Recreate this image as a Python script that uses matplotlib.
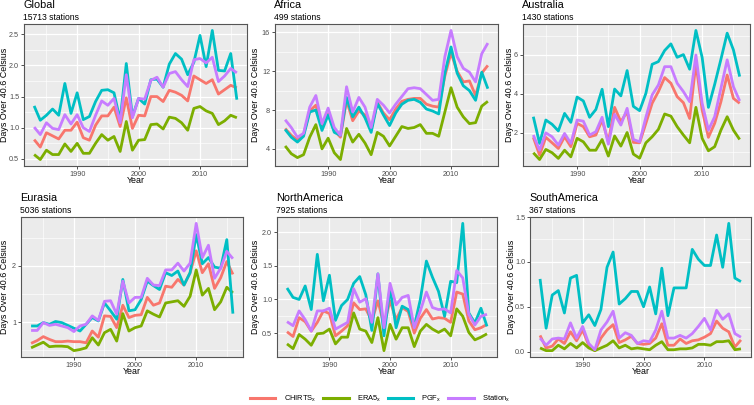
import matplotlib
matplotlib.use("Agg")
import matplotlib.pyplot as plt
from matplotlib.lines import Line2D
from matplotlib.ticker import MultipleLocator, FormatStrFormatter

years = list(range(1983, 2017))

global_chirts = [0.81, 0.69, 0.92, 0.87, 0.82, 0.96, 0.96, 1.09, 0.84, 0.80, 1.04, 1.19, 1.19, 1.33, 1.02, 1.48, 0.99,
                 1.20, 1.19, 1.50, 1.50, 1.42, 1.60, 1.57, 1.52, 1.43, 1.83, 1.77, 1.71, 1.77, 1.54, 1.61, 1.68, 1.64]
global_era5 = [0.57, 0.49, 0.64, 0.57, 0.57, 0.74, 0.62, 0.75, 0.59, 0.59, 0.75, 0.89, 0.80, 0.86, 0.62, 1.10, 0.64,
               0.80, 0.81, 1.05, 1.06, 0.98, 1.17, 1.15, 1.08, 0.96, 1.31, 1.34, 1.27, 1.23, 1.05, 1.11, 1.20, 1.16]
global_pgf = [1.35, 1.12, 1.20, 1.30, 1.20, 1.71, 1.23, 1.56, 1.13, 1.18, 1.42, 1.60, 1.61, 1.56, 1.12, 2.03, 1.18,
              1.47, 1.38, 1.77, 1.78, 1.65, 2.02, 2.19, 2.10, 1.85, 2.05, 2.48, 1.98, 2.56, 1.92, 1.91, 2.19, 1.45]
global_station = [1.01, 0.89, 1.08, 0.99, 0.97, 1.21, 1.06, 1.21, 1.00, 0.94, 1.20, 1.43, 1.36, 1.47, 1.08, 1.85, 1.16,
                  1.47, 1.46, 1.76, 1.81, 1.65, 1.87, 1.90, 1.77, 1.66, 2.09, 2.11, 2.04, 2.13, 1.74, 1.83, 1.95, 1.88]

africa_chirts = [6.1, 5.4, 4.9, 5.5, 7.9, 8.5, 6.2, 7.6, 5.9, 5.2, 9.0, 6.9, 7.9, 7.5, 6.0, 8.8, 7.7,
                 7.0, 8.1, 8.9, 9.1, 9.2, 9.2, 8.6, 8.4, 8.3, 11.5, 13.9, 12.0, 10.9, 11.0, 9.5, 11.8, 12.6]
africa_era5 = [4.3, 3.5, 3.1, 3.4, 5.2, 6.5, 4.0, 5.1, 3.6, 2.9, 6.1, 4.7, 5.5, 4.6, 3.4, 5.7, 5.3,
               4.3, 5.3, 6.3, 6.1, 6.2, 6.5, 5.6, 5.6, 5.3, 7.8, 10.3, 8.3, 7.3, 6.6, 6.7, 8.4, 8.9]
africa_pgf = [6.0, 5.2, 4.7, 5.3, 7.8, 8.0, 5.9, 7.5, 5.7, 5.4, 9.3, 7.3, 8.3, 7.2, 5.7, 8.7, 7.5,
              6.4, 7.7, 8.6, 9.0, 9.1, 8.8, 8.1, 7.9, 7.6, 11.8, 14.5, 11.8, 10.5, 10.0, 9.0, 11.9, 10.2]
africa_station = [7.0, 6.2, 5.2, 5.6, 8.3, 9.5, 6.6, 8.2, 6.2, 5.4, 10.4, 7.8, 9.3, 8.3, 6.2, 9.1, 8.5,
                  7.7, 8.6, 9.4, 10.2, 10.3, 10.2, 9.6, 9.0, 9.1, 13.5, 16.2, 13.5, 12.3, 11.9, 10.9, 13.8, 14.9]

australia_chirts = [1.77, 0.86, 1.77, 1.49, 1.20, 1.80, 1.29, 2.49, 2.32, 1.80, 1.89, 2.66, 1.54, 3.31, 2.57, 3.09, 1.51,
                    1.49, 2.49, 3.52, 4.12, 4.84, 4.55, 3.86, 3.55, 2.74, 5.57, 3.17, 1.77, 2.49, 3.60, 4.97, 3.77, 3.52]
australia_era5 = [0.98, 0.63, 1.15, 0.98, 0.69, 1.11, 0.77, 1.72, 1.54, 1.11, 1.11, 1.66, 0.81, 1.84, 1.32, 2.02, 0.91,
                  0.70, 1.49, 1.80, 2.18, 2.97, 2.86, 2.32, 1.89, 1.49, 3.31, 1.72, 1.08, 1.29, 2.14, 2.83, 2.14, 1.66]
australia_pgf = [2.83, 1.46, 2.66, 2.44, 2.10, 3.00, 2.54, 3.84, 3.64, 2.80, 3.20, 4.24, 2.32, 4.25, 3.90, 5.20, 3.36,
                 3.14, 4.03, 5.52, 5.66, 6.23, 6.57, 5.88, 6.02, 5.27, 7.26, 5.87, 3.31, 4.49, 5.78, 7.12, 6.26, 4.89]
australia_station = [1.89, 1.11, 2.00, 1.80, 1.37, 1.97, 1.46, 2.66, 2.60, 1.89, 2.06, 2.80, 1.42, 2.95, 2.40, 3.26, 1.66,
                     1.54, 2.80, 3.95, 4.46, 5.40, 5.40, 4.55, 4.12, 3.60, 6.00, 3.52, 2.14, 2.83, 4.29, 5.75, 4.37, 3.64]

eurasia_chirts = [0.62, 0.67, 0.74, 0.69, 0.65, 0.65, 0.66, 0.65, 0.65, 0.63, 0.84, 0.73, 1.11, 1.10, 0.90, 1.30, 1.08,
                  1.12, 1.13, 1.44, 1.30, 1.34, 1.64, 1.62, 1.76, 1.66, 1.88, 2.27, 1.88, 2.04, 1.60, 1.79, 2.08, 1.85]
eurasia_era5 = [0.54, 0.59, 0.64, 0.56, 0.57, 0.57, 0.56, 0.49, 0.51, 0.54, 0.72, 0.59, 0.81, 0.87, 0.66, 1.15, 0.84,
                0.90, 0.93, 1.20, 1.14, 1.09, 1.34, 1.36, 1.38, 1.28, 1.46, 1.93, 1.48, 1.60, 1.22, 1.36, 1.62, 1.52]
eurasia_pgf = [0.93, 0.93, 0.99, 0.96, 1.01, 0.99, 0.94, 0.89, 0.84, 0.96, 1.08, 1.02, 1.34, 1.20, 1.05, 1.76, 1.20,
               1.22, 1.40, 1.73, 1.65, 1.58, 1.88, 1.83, 1.91, 1.66, 1.88, 2.56, 2.04, 2.15, 1.98, 1.96, 2.47, 1.15]
eurasia_station = [0.85, 0.85, 0.99, 0.94, 0.96, 0.93, 0.90, 0.83, 0.93, 0.96, 1.11, 1.03, 1.37, 1.38, 1.14, 1.73, 1.34,
                   1.44, 1.44, 1.78, 1.66, 1.65, 1.93, 1.93, 2.05, 1.91, 2.05, 2.76, 2.15, 2.37, 1.78, 1.96, 2.26, 2.13]

namerica_chirts = [0.52, 0.45, 0.73, 0.67, 0.53, 0.66, 0.83, 0.79, 0.46, 0.53, 0.61, 0.95, 0.85, 0.86, 0.68, 0.98, 0.62,
                   0.98, 0.70, 0.88, 0.82, 0.50, 0.72, 0.85, 0.71, 0.73, 0.72, 0.66, 1.11, 1.08, 0.68, 0.55, 0.58, 0.63]
namerica_era5 = [0.34, 0.27, 0.48, 0.41, 0.32, 0.49, 0.50, 0.56, 0.34, 0.44, 0.44, 0.80, 0.56, 0.53, 0.36, 0.73, 0.24,
                 0.63, 0.41, 0.58, 0.58, 0.30, 0.53, 0.63, 0.56, 0.51, 0.56, 0.46, 0.86, 0.75, 0.51, 0.40, 0.44, 0.49]
namerica_pgf = [1.17, 1.03, 1.00, 1.20, 0.85, 1.67, 0.98, 1.36, 0.69, 0.91, 1.00, 1.24, 1.34, 1.07, 0.54, 1.38, 0.46,
                1.17, 0.58, 0.90, 0.85, 0.60, 1.00, 1.57, 1.33, 1.12, 0.75, 1.27, 1.25, 2.13, 0.80, 0.65, 0.87, 0.60]
namerica_station = [0.67, 0.61, 0.83, 0.70, 0.53, 0.83, 0.83, 0.87, 0.56, 0.61, 0.66, 1.16, 0.96, 1.01, 0.66, 1.38, 0.58,
                    1.24, 0.92, 1.03, 1.06, 0.58, 0.83, 1.11, 0.88, 0.85, 0.86, 0.80, 1.43, 1.32, 0.78, 0.62, 0.75, 0.78]

samerica_chirts = [0.18, 0.04, 0.06, 0.14, 0.09, 0.22, 0.12, 0.24, 0.07, 0.01, 0.15, 0.24, 0.30, 0.10, 0.13, 0.17, 0.09,
                   0.08, 0.09, 0.15, 0.31, 0.07, 0.07, 0.14, 0.09, 0.12, 0.13, 0.16, 0.20, 0.34, 0.26, 0.22, 0.05, 0.13]
samerica_era5 = [0.04, 0.01, 0.01, 0.07, 0.03, 0.09, 0.04, 0.10, 0.04, 0.01, 0.04, 0.07, 0.12, 0.04, 0.07, 0.03, 0.04,
                 0.03, 0.02, 0.07, 0.11, 0.02, 0.02, 0.03, 0.03, 0.04, 0.08, 0.08, 0.07, 0.11, 0.11, 0.12, 0.02, 0.03]
samerica_pgf = [0.81, 0.26, 0.63, 0.68, 0.43, 0.82, 0.85, 0.32, 0.41, 0.29, 0.47, 0.94, 1.11, 0.53, 0.59, 0.67, 0.67,
                0.50, 0.72, 0.42, 0.93, 0.40, 0.71, 0.71, 0.71, 1.14, 1.03, 0.96, 0.96, 1.30, 0.94, 1.43, 0.82, 0.78]
samerica_station = [0.15, 0.07, 0.14, 0.15, 0.14, 0.32, 0.15, 0.28, 0.09, 0.02, 0.24, 0.33, 0.45, 0.15, 0.21, 0.18, 0.09,
                    0.12, 0.11, 0.24, 0.45, 0.15, 0.15, 0.18, 0.15, 0.20, 0.28, 0.37, 0.24, 0.46, 0.36, 0.42, 0.20, 0.16]

series_names = [r"CHIRTS$_x$", r"ERA5$_x$", r"PGF$_x$", r"Station$_x$"]
series_colors = ["#F8766D", "#7CAE00", "#00BFC4", "#C77CFF"]

plt.rcParams["font.family"] = ["Liberation Sans", "DejaVu Sans"]
plt.rcParams["mathtext.default"] = "regular"

W, H = 754, 405
fig = plt.figure(figsize=(W / 100, H / 100), dpi=100)


def panel(box, title, n_stations, data, ystep, yfmt, ylab_x, title_y):
    left, top, right, bottom = box
    ax = fig.add_axes([left / W, 1 - bottom / H, (right - left) / W, (bottom - top) / H])
    ax.set_facecolor("#EBEBEB")
    for vals, col in zip(data, series_colors):
        ax.plot(years, vals, color=col, lw=2.0, solid_capstyle="butt", zorder=3)
    lo = min(min(v) for v in data)
    hi = max(max(v) for v in data)
    pad = 0.05 * (hi - lo)
    ax.set_ylim(lo - pad, hi + pad)
    ax.set_xlim(1983 - 1.65, 2016 + 1.65)
    ax.set_xticks([1990, 2000, 2010])
    ax.set_xticks([1985, 1995, 2005, 2015], minor=True)
    ax.yaxis.set_major_locator(MultipleLocator(ystep))
    ax.yaxis.set_minor_locator(MultipleLocator(ystep / 2))
    ax.yaxis.set_major_formatter(FormatStrFormatter(yfmt))
    ax.grid(which="major", color="white", lw=0.9, zorder=0)
    ax.grid(which="minor", color="white", lw=0.45, zorder=0)
    ax.set_axisbelow(True)
    ax.tick_params(which="major", length=2, width=0.6, color="#333333", labelsize=5.2,
                   labelcolor="#4D4D4D", pad=1.5)
    ax.tick_params(which="minor", length=0)
    for s in ax.spines.values():
        s.set_color("#555555")
        s.set_linewidth(0.8)
    cx = (left + right) / 2 / W
    fig.text(cx, 1 - (bottom + 15) / H, "Year", ha="center", va="center", fontsize=6.4)
    fig.text(ylab_x / W, 1 - (top + bottom) / 2 / H, "Days Over 40.6 Celsius", rotation=90,
             ha="center", va="center", fontsize=6.4)
    fig.text((left - 1) / W, 1 - title_y / H, title, ha="left", va="baseline", fontsize=7.8)
    fig.text((left - 1) / W, 1 - (title_y + 12) / H, f"{n_stations} stations", ha="left",
             va="baseline", fontsize=6.2)
    return ax


panel((24, 24, 247, 166), "Global", 15713,
      [global_chirts, global_era5, global_pgf, global_station], 0.5, "%.1f", 5.0, 8)
panel((275, 24, 498, 166), "Africa", 499,
      [africa_chirts, africa_era5, africa_pgf, africa_station], 4, "%d", 256, 8)
panel((523, 24, 750, 166), "Australia", 1430,
      [australia_chirts, australia_era5, australia_pgf, australia_station], 2, "%d", 509, 8)
panel((21, 217, 243, 357), "Eurasia", 5036,
      [eurasia_chirts, eurasia_era5, eurasia_pgf, eurasia_station], 1, "%d", 5.0, 201)
panel((277, 217, 497, 357), "NorthAmerica", 7925,
      [namerica_chirts, namerica_era5, namerica_pgf, namerica_station], 0.5, "%.1f", 256, 201)
panel((530, 217, 751, 357), "SouthAmerica", 367,
      [samerica_chirts, samerica_era5, samerica_pgf, samerica_station], 0.5, "%.1f", 511, 201)

handles = [Line2D([], [], color=c, lw=2.2) for c in series_colors]
fig.legend(handles, series_names, loc="center", bbox_to_anchor=(380 / W, 1 - 399 / H), ncol=4,
           frameon=False, fontsize=5.4, handlelength=3.4, handletextpad=1.1, columnspacing=0.9,
           borderpad=0.1)

fig.savefig("out.png", dpi=100)
